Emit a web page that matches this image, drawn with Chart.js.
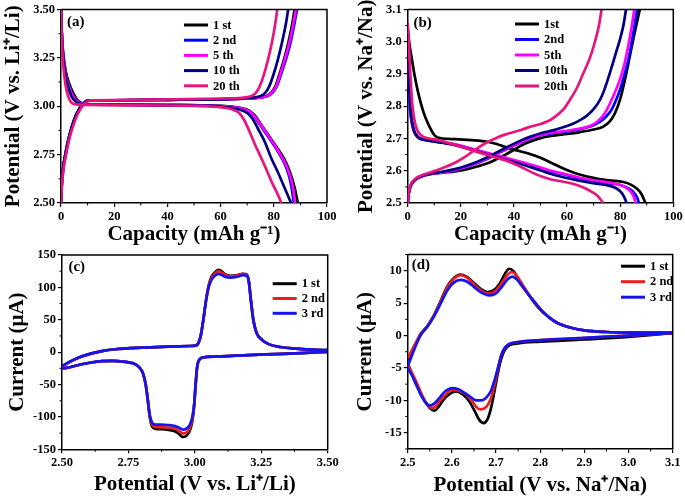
<!DOCTYPE html>
<html>
<head>
<meta charset="utf-8">
<script src="https://cdn.jsdelivr.net/npm/chart.js@4.4.1/dist/chart.umd.min.js"></script>
<style>
  body { margin: 0; background: #fff; }
  canvas { position: absolute; }
</style>
</head>
<body>
<canvas id="chartA" width="342" height="245" style="left:0;top:0"></canvas>
<canvas id="chartB" width="343" height="245" style="left:342px;top:0"></canvas>
<canvas id="chartC" width="342" height="253" style="left:0;top:245px"></canvas>
<canvas id="chartD" width="343" height="253" style="left:342px;top:245px"></canvas>
<script>
// ---------------- tick values ----------------
const capTicks = [0, 20, 40, 60, 80, 100];
const liVoltTicks = [2.5, 2.75, 3.0, 3.25, 3.5];
const naVoltTicks = [2.5, 2.6, 2.7, 2.8, 2.9, 3.0, 3.1];
const currentTicksC = [-150, -100, -50, 0, 50, 100, 150];
const currentTicksD = [-15, -10, -5, 0, 5, 10];

// ---------------- (a) Li cell, [capacity, voltage] ----------------
const aCycles = ['1 st', '2 nd', '5 th', '10 th', '20 th'];
const aChg1 = [[0,2.5],[0.3,2.6],[0.8,2.68],[1.6,2.75],[2.8,2.83],[4.2,2.9],[5.8,2.96],[7.5,3.0],[9,3.022],[10.5,3.03],[20,3.031],[40,3.033],[60,3.036],[70,3.04],[74,3.044],[77,3.052],[79,3.07],[80.5,3.1],[82,3.16],[83.8,3.24],[85.5,3.33],[87,3.43],[87.8,3.5]];
const aChg2 = [[0,2.5],[0.3,2.6],[0.8,2.68],[1.7,2.75],[2.9,2.83],[4.3,2.9],[5.9,2.96],[7.6,3.0],[9,3.022],[10.5,3.03],[20,3.031],[40,3.033],[60,3.036],[70,3.04],[74.5,3.044],[77.5,3.052],[79.5,3.07],[81,3.1],[82.6,3.16],[84.5,3.24],[86.3,3.33],[87.8,3.43],[88.7,3.5]];
const aChg5 = [[0,2.5],[0.35,2.6],[0.9,2.68],[1.8,2.75],[3,2.83],[4.4,2.9],[6,2.96],[7.7,3.0],[9.2,3.022],[10.6,3.03],[20,3.031],[40,3.033],[60,3.036],[70,3.04],[74.3,3.044],[77.3,3.052],[79.2,3.07],[80.8,3.1],[82.3,3.16],[84.1,3.24],[85.9,3.33],[87.4,3.43],[88.3,3.5]];
const aChg10 = [[0,2.5],[0.3,2.6],[0.8,2.68],[1.6,2.75],[2.8,2.83],[4.2,2.9],[5.8,2.96],[7.5,3.0],[9,3.022],[10.5,3.03],[20,3.031],[40,3.033],[60,3.036],[68,3.04],[72,3.044],[74.5,3.05],[76.5,3.065],[78.2,3.1],[79.8,3.16],[81.5,3.24],[83.1,3.33],[84.6,3.43],[85.4,3.5]];
const aChg20 = [[0,2.5],[0.4,2.6],[1,2.68],[1.9,2.75],[3.1,2.83],[4.6,2.9],[6.3,2.96],[8,3.0],[9.5,3.02],[11,3.03],[20,3.032],[40,3.035],[60,3.04],[68,3.044],[71,3.05],[73,3.065],[74.6,3.1],[76.2,3.16],[77.8,3.24],[79.3,3.33],[80.6,3.43],[81.3,3.5]];
const aDis1 = [[0,3.5],[0.2,3.42],[0.5,3.33],[1,3.25],[1.8,3.18],[3,3.12],[4.5,3.07],[6,3.035],[7.5,3.018],[9,3.01],[20,3.009],[40,3.007],[55,3.004],[63,3.0],[68,2.99],[71,2.975],[73,2.95],[75,2.91],[77.5,2.86],[80,2.81],[82.2,2.766],[84,2.725],[85.5,2.68],[86.8,2.63],[88,2.57],[89,2.5]];
const aDis2 = [[0,3.5],[0.2,3.41],[0.5,3.32],[1,3.24],[1.7,3.17],[2.8,3.11],[4.2,3.06],[5.7,3.03],[7.2,3.015],[9,3.01],[20,3.008],[40,3.006],[55,3.003],[63,2.998],[68,2.988],[71,2.97],[73,2.94],[75,2.9],[77.5,2.85],[80,2.8],[82,2.755],[84,2.705],[85.5,2.65],[86.7,2.58],[87.5,2.5]];
const aDis5 = [[0,3.5],[0.2,3.41],[0.5,3.32],[1,3.24],[1.7,3.17],[2.8,3.11],[4.2,3.06],[5.7,3.03],[7.2,3.015],[9,3.01],[20,3.008],[40,3.006],[55,3.003],[63,2.998],[68,2.988],[71.2,2.97],[73.2,2.94],[75.3,2.9],[77.8,2.85],[80.3,2.8],[82.3,2.755],[84.3,2.705],[85.9,2.65],[87.2,2.58],[88,2.5]];
const aDis10 = [[0,3.5],[0.2,3.4],[0.5,3.31],[1,3.23],[1.7,3.16],[2.7,3.1],[4,3.05],[5.5,3.025],[7,3.013],[9,3.009],[20,3.007],[40,3.005],[55,3.002],[62,2.995],[67,2.983],[70,2.965],[72,2.935],[74,2.885],[76.5,2.82],[79.1,2.73],[81.5,2.66],[84,2.58],[86.5,2.5]];
const aDis20 = [[0,3.5],[0.2,3.38],[0.5,3.28],[1,3.19],[1.7,3.11],[2.6,3.055],[3.6,3.025],[4.6,3.013],[7,3.008],[20,3.006],[40,3.004],[55,3.0],[61,2.993],[64.5,2.983],[67,2.965],[69,2.925],[71,2.865],[73,2.8],[74.7,2.75],[77,2.68],[79.5,2.6],[81.3,2.55],[82.9,2.5]];

// ---------------- (b) Na cell, [capacity, voltage] ----------------
const bCycles = ['1st', '2nd', '5th', '10th', '20th'];
const bChg1 = [[0,2.5],[0.3,2.525],[1,2.55],[2.7,2.571],[5,2.582],[9,2.59],[13,2.594],[17.8,2.598],[22,2.604],[26,2.613],[30.3,2.624],[33.5,2.636],[36.6,2.649],[40,2.665],[42.9,2.679],[46,2.69],[50.4,2.702],[55,2.709],[60,2.714],[64.9,2.72],[70,2.728],[73.5,2.736],[76,2.752],[78,2.778],[80,2.822],[82,2.89],[83.7,2.958],[85.5,3.03],[87.4,3.1]];
const bChg2 = [[0,2.5],[0.3,2.525],[1,2.55],[2.7,2.571],[5,2.582],[9,2.591],[13,2.595],[17.8,2.601],[24,2.617],[30.3,2.638],[36.6,2.664],[42.9,2.689],[46,2.699],[50.4,2.711],[55,2.717],[60,2.722],[64.9,2.729],[69,2.738],[72,2.75],[74.5,2.766],[76.8,2.79],[78.5,2.82],[80.3,2.86],[82,2.91],[83.5,2.96],[85,3.03],[86.4,3.1]];
const bChg5 = [[0,2.5],[0.3,2.525],[1,2.55],[2.7,2.571],[5,2.582],[9,2.591],[13,2.595],[17.8,2.602],[24,2.618],[30.3,2.64],[36.6,2.666],[42.9,2.69],[46,2.7],[50.4,2.712],[55,2.719],[60,2.724],[64.9,2.731],[68.6,2.739],[71.2,2.751],[73.5,2.77],[74.9,2.788],[76.8,2.82],[78.5,2.853],[80,2.885],[81.7,2.935],[83.1,2.99],[84.3,3.045],[85.3,3.1]];
const bChg10 = [[0,2.5],[0.3,2.526],[1,2.552],[2.7,2.572],[5,2.583],[9,2.592],[13,2.597],[17.8,2.605],[24,2.621],[30.3,2.643],[36.6,2.67],[42.9,2.695],[46,2.705],[50.4,2.717],[55,2.726],[58.6,2.735],[62,2.745],[64.9,2.757],[67.5,2.771],[69.9,2.79],[72.4,2.82],[74,2.85],[76.2,2.905],[78.2,2.96],[80,3.01],[81.2,3.05],[82.2,3.1]];
const bChg20 = [[0,2.5],[0.3,2.527],[1,2.555],[2.7,2.574],[5,2.585],[9,2.596],[13,2.608],[17.8,2.625],[21,2.64],[24,2.657],[27,2.674],[30.3,2.69],[33.5,2.702],[36.6,2.712],[42.9,2.727],[46,2.736],[50.4,2.746],[53.6,2.757],[56,2.771],[58.6,2.79],[61.1,2.82],[63.6,2.855],[66,2.9],[68.6,2.95],[70.5,3.0],[72,3.05],[73,3.1]];
const bDis1 = [[0,3.04],[0.7,2.99],[1.5,2.95],[2.5,2.9],[4,2.84],[6,2.78],[8,2.74],[10.3,2.708],[13,2.7],[18,2.698],[24,2.695],[30,2.69],[33.5,2.683],[36.6,2.674],[42.9,2.659],[46,2.652],[50,2.64],[54,2.625],[58.6,2.607],[64,2.59],[71.2,2.576],[76,2.57],[81.2,2.565],[84,2.557],[86.2,2.545],[88,2.528],[89.5,2.5]];
const bDis2 = [[0,2.9],[0.5,2.83],[1.2,2.765],[2.2,2.725],[3.8,2.703],[7,2.695],[12,2.689],[17.8,2.681],[24,2.667],[30.3,2.653],[36.6,2.639],[42.9,2.625],[46,2.618],[50.4,2.607],[54,2.598],[58.6,2.589],[64,2.578],[71.2,2.567],[76,2.561],[80,2.556],[83,2.546],[85,2.534],[86.3,2.518],[87.1,2.5]];
const bDis5 = [[0,2.93],[0.5,2.85],[1.2,2.775],[2.2,2.728],[3.8,2.704],[7,2.696],[12,2.69],[17.8,2.682],[24,2.669],[30.3,2.655],[36.6,2.641],[42.9,2.627],[46,2.62],[50.4,2.609],[54,2.6],[58.6,2.591],[64,2.58],[71.2,2.569],[76,2.563],[80,2.556],[82.5,2.546],[84.2,2.533],[85.2,2.518],[85.8,2.5]];
const bDis10 = [[0,2.95],[0.5,2.86],[1.2,2.78],[2.2,2.73],[3.8,2.705],[7,2.695],[12,2.688],[17.8,2.679],[24,2.665],[30.3,2.65],[36.6,2.635],[42.9,2.62],[46,2.612],[50.4,2.6],[54,2.59],[58.6,2.58],[64,2.57],[71.2,2.56],[75,2.555],[78.7,2.545],[80.5,2.532],[81.7,2.515],[82.4,2.5]];
const bDis20 = [[0,3.06],[0.4,3.0],[1,2.9],[1.8,2.8],[3,2.74],[5,2.71],[8,2.7],[11.5,2.695],[17.8,2.68],[24.1,2.664],[30.3,2.648],[36.6,2.633],[42,2.615],[46,2.598],[50.4,2.582],[54,2.573],[58.6,2.566],[64,2.555],[68.6,2.538],[71.5,2.522],[73.6,2.5]];

// ---------------- (c) CV Li, [potential, current uA] ----------------
const cvCycles = ['1 st', '2 nd', '3 rd'];
const cUp1 = [[2.5,-22],[2.53,-15],[2.56,-9],[2.6,-3.5],[2.65,1.5],[2.7,4.5],[2.8,7],[2.9,8.5],[2.98,9.5],[3.0,10],[3.012,13],[3.022,25],[3.032,50],[3.042,80],[3.052,103],[3.062,116],[3.075,123],[3.088,127],[3.1,125],[3.115,120],[3.135,118],[3.16,119],[3.18,121],[3.195,120],[3.203,110],[3.211,80],[3.22,50],[3.232,30],[3.25,20],[3.28,12],[3.32,8],[3.38,5.5],[3.44,4],[3.5,3]];
const cDn1 = [[3.5,0.5],[3.4,-1.5],[3.3,-3],[3.2,-4.5],[3.1,-6.5],[3.035,-8],[3.018,-11],[3.009,-22],[3.003,-50],[2.997,-85],[2.99,-108],[2.98,-122],[2.968,-129],[2.955,-131],[2.942,-127],[2.925,-122],[2.9,-120],[2.875,-119],[2.85,-118],[2.838,-114],[2.83,-100],[2.823,-75],[2.815,-50],[2.805,-33],[2.79,-23],[2.77,-17.5],[2.73,-14.5],[2.69,-13.5],[2.65,-14],[2.61,-16],[2.57,-19],[2.535,-23],[2.5,-26]];
const cUp2 = [[2.5,-22],[2.53,-15],[2.56,-9],[2.6,-3.5],[2.65,1.5],[2.7,4.5],[2.8,7],[2.9,8.5],[2.98,9.5],[3.0,10],[3.012,13],[3.022,25],[3.032,50],[3.042,80],[3.052,102],[3.062,114],[3.075,121],[3.088,125],[3.1,123],[3.115,119],[3.135,117],[3.16,118.5],[3.18,121],[3.195,119.5],[3.203,110],[3.211,80],[3.22,50],[3.232,30],[3.25,20],[3.28,12],[3.32,8],[3.38,5.5],[3.44,4],[3.5,3]];
const cDn2 = [[3.5,0.5],[3.4,-1.5],[3.3,-3],[3.2,-4.5],[3.1,-6.5],[3.035,-8],[3.018,-11],[3.009,-22],[3.003,-50],[2.997,-84],[2.99,-105],[2.98,-118],[2.968,-124],[2.955,-125.5],[2.942,-122],[2.925,-118],[2.9,-116.5],[2.875,-116],[2.85,-115.5],[2.838,-111],[2.83,-98],[2.823,-74],[2.815,-50],[2.805,-33],[2.79,-23],[2.77,-17.5],[2.73,-14.5],[2.69,-13.5],[2.65,-14],[2.61,-16],[2.57,-19],[2.535,-23],[2.5,-26]];
const cUp3 = [[2.5,-21],[2.53,-14.5],[2.56,-8.5],[2.6,-3],[2.65,1.5],[2.7,4.5],[2.8,7],[2.9,8.5],[2.98,9.5],[3.0,10],[3.012,13],[3.022,25],[3.032,50],[3.042,79],[3.052,100],[3.062,111],[3.075,118],[3.088,121],[3.1,119.5],[3.115,116],[3.135,115],[3.16,116.5],[3.18,119],[3.195,118],[3.203,109],[3.211,80],[3.22,50],[3.232,30],[3.25,20],[3.28,12],[3.32,8],[3.38,5.5],[3.44,4],[3.5,3]];
const cDn3 = [[3.5,0.5],[3.4,-1.5],[3.3,-3],[3.2,-4.5],[3.1,-6.5],[3.035,-8],[3.018,-11],[3.009,-22],[3.003,-49],[2.997,-82],[2.99,-101],[2.98,-113],[2.968,-118],[2.955,-119.5],[2.942,-117],[2.925,-114],[2.9,-112.5],[2.875,-112],[2.85,-112],[2.838,-108],[2.83,-96],[2.823,-73],[2.815,-50],[2.805,-33],[2.79,-23],[2.77,-17.5],[2.73,-14.5],[2.69,-13.5],[2.65,-14],[2.61,-16],[2.57,-19],[2.535,-22.5],[2.5,-25]];

// ---------------- (d) CV Na, [potential, current uA] ----------------
const dUp1 = [[2.5,-3.8],[2.51,-2.4],[2.52,-1],[2.53,0.3],[2.545,1.5],[2.56,3.2],[2.575,5.4],[2.59,7.6],[2.605,8.9],[2.62,9.4],[2.635,9],[2.65,8.1],[2.665,7.2],[2.68,6.7],[2.695,7],[2.708,8],[2.72,9.5],[2.73,10.3],[2.74,9.9],[2.75,8.8],[2.765,7.2],[2.78,5.7],[2.8,4],[2.82,2.8],[2.84,1.9],[2.87,1.2],[2.9,0.8],[2.95,0.55],[3.0,0.45],[3.1,0.4]];
const dDn1 = [[3.1,0.35],[3.0,-0.2],[2.9,-0.6],[2.8,-0.95],[2.75,-1.2],[2.73,-1.5],[2.72,-2.2],[2.712,-3.5],[2.705,-5.5],[2.698,-8],[2.69,-10.8],[2.682,-12.7],[2.672,-13.5],[2.662,-13],[2.652,-11.7],[2.64,-10.2],[2.625,-9.1],[2.61,-8.6],[2.595,-9],[2.58,-10],[2.57,-11],[2.56,-11.6],[2.55,-11.2],[2.54,-10.2],[2.53,-9],[2.52,-7.6],[2.51,-6],[2.5,-4.3]];
const dUp2 = [[2.5,-3.5],[2.51,-2.2],[2.52,-0.9],[2.53,0.3],[2.545,1.5],[2.56,3.2],[2.575,5.3],[2.59,7.5],[2.605,8.8],[2.62,9.3],[2.635,8.9],[2.65,7.9],[2.665,7],[2.68,6.5],[2.695,6.7],[2.71,7.8],[2.722,9],[2.735,9.8],[2.745,9.4],[2.755,8.4],[2.768,7],[2.78,5.8],[2.8,4.1],[2.82,2.8],[2.84,1.9],[2.87,1.2],[2.9,0.8],[2.95,0.55],[3.0,0.45],[3.1,0.4]];
const dDn2 = [[3.1,0.35],[3.0,0],[2.9,-0.35],[2.8,-0.7],[2.75,-1],[2.73,-1.3],[2.72,-1.9],[2.712,-3],[2.705,-5],[2.697,-7.5],[2.688,-9.8],[2.678,-11],[2.665,-11.4],[2.655,-11],[2.645,-10],[2.63,-9],[2.615,-8.5],[2.6,-8.4],[2.585,-9.2],[2.572,-10.2],[2.562,-11],[2.555,-11.2],[2.545,-10.7],[2.535,-9.6],[2.525,-8],[2.515,-6.5],[2.5,-4.5]];
const dUp3 = [[2.5,-4.8],[2.51,-3],[2.52,-1.3],[2.53,0.1],[2.545,1.4],[2.56,3],[2.575,5],[2.59,7],[2.605,8.2],[2.62,8.6],[2.635,8.3],[2.65,7.5],[2.665,6.7],[2.685,6.2],[2.7,6.5],[2.713,7.5],[2.725,8.6],[2.737,9.1],[2.748,8.6],[2.758,7.7],[2.77,6.6],[2.785,5.4],[2.8,4.1],[2.82,2.8],[2.84,1.9],[2.87,1.2],[2.9,0.8],[2.95,0.55],[3.0,0.45],[3.1,0.45]];
const dDn3 = [[3.1,0.4],[3.0,0],[2.9,-0.35],[2.8,-0.7],[2.75,-1],[2.73,-1.3],[2.72,-1.9],[2.712,-3],[2.705,-4.8],[2.697,-6.8],[2.688,-8.6],[2.676,-9.7],[2.665,-10],[2.655,-10],[2.645,-9.6],[2.63,-8.9],[2.615,-8.3],[2.6,-8.1],[2.585,-8.6],[2.572,-9.6],[2.56,-10.5],[2.55,-10.8],[2.54,-10.3],[2.53,-9.2],[2.52,-7.7],[2.51,-6.2],[2.5,-5]];

// ---------------- styling ----------------
const FONT = '"Liberation Serif", "Times New Roman", serif';
const cycleColors = ['#000000', '#0000ff', '#ff00ff', '#000080', '#e8157f'];
const cvColors = ['#000000', '#ee1c1c', '#1414ee'];

// minor ticks, top/right frame, panel tag and in-plot legend
const panelDecor = {
    id: 'panelDecor',
    afterDatasetsDraw(chart, args, o) {
        const ctx = chart.ctx;
        const area = chart.chartArea;
        ctx.save();
        ctx.strokeStyle = '#000';
        ctx.lineWidth = 1.5;
        ctx.beginPath();
        ctx.moveTo(area.left, area.top);
        ctx.lineTo(area.right, area.top);
        ctx.lineTo(area.right, area.bottom);
        ctx.stroke();

        // minor ticks halfway between the major ones
        ctx.lineWidth = 1;
        ['x', 'y'].forEach(id => {
            const s = chart.scales[id];
            const vals = s.ticks.map(t => t.value);
            const step = vals[1] - vals[0];
            const minors = [];
            for (let v = vals[0] - step / 2; v <= s.max + 1e-9; v += step) {
                if (v >= s.min - 1e-9) minors.push(v);
            }
            ctx.beginPath();
            minors.forEach(v => {
                const p = s.getPixelForValue(v);
                if (id === 'x') { ctx.moveTo(p, area.bottom); ctx.lineTo(p, area.bottom + 2.5); }
                else { ctx.moveTo(area.left, p); ctx.lineTo(area.left - 2.5, p); }
            });
            ctx.stroke();
        });

        ctx.fillStyle = '#000';
        ctx.textBaseline = 'middle';
        ctx.font = 'bold 15px ' + FONT;
        ctx.fillText(o.tag, o.tagX, o.tagY);

        ctx.font = 'bold 12.5px ' + FONT;
        chart.data.datasets.filter(ds => ds.label).forEach((ds, i) => {
            const y = o.legY + i * o.legGap;
            ctx.strokeStyle = ds.borderColor;
            ctx.lineWidth = 3;
            ctx.beginPath();
            ctx.moveTo(o.legX, y);
            ctx.lineTo(o.legX + 24, y);
            ctx.stroke();
            ctx.fillText(ds.label, o.legX + 29, y + 0.5);
        });
        ctx.restore();
    }
};

function axisOpts(a, dir) {
    return {
        type: 'linear',
        position: dir === 'x' ? 'bottom' : 'left',
        min: a.min,
        max: a.max,
        afterBuildTicks: s => { s.ticks = a.ticks.map(v => ({ value: v })); },
        afterFit: s => { if (dir === 'x') s.height = a.size; else s.width = a.size; },
        ticks: {
            color: '#000', padding: 2, autoSkip: false, maxRotation: 0,
            font: { family: FONT, size: 12.5, weight: 'bold' },
            callback: v => v.toFixed(a.dec)
        },
        grid: { drawOnChartArea: false, color: '#000', lineWidth: 1.2, tickLength: 4 },
        border: { color: '#000', width: 1.5 },
        title: {
            display: true, text: a.title, color: '#000',
            font: { family: FONT, size: 21, weight: 'bold', lineHeight: 1 },
            padding: dir === 'x' ? { top: 0, bottom: a.titlePad } : { top: a.titlePad, bottom: 0 }
        }
    };
}

function makePanel(id, series, labels, colors, cfg) {
    const datasets = [];
    series.forEach((branches, i) => {
        branches.forEach((br, j) => {
            datasets.push({
                label: j === 0 ? labels[i] : '',
                data: br.map(([x, y]) => ({ x, y })),
                borderColor: colors[i],
                borderWidth: 2.7,
                pointRadius: 0,
                fill: false,
                cubicInterpolationMode: 'monotone',
                order: -i
            });
        });
    });
    return new Chart(document.getElementById(id), {
        type: 'scatter',
        data: { datasets },
        options: {
            responsive: false,
            animation: false,
            devicePixelRatio: 1,
            events: [],
            showLine: true,
            layout: { padding: { top: cfg.top, right: cfg.right, left: 0, bottom: 0 } },
            plugins: {
                legend: { display: false },
                tooltip: { enabled: false },
                panelDecor: cfg.decor
            },
            scales: { x: axisOpts(cfg.x, 'x'), y: axisOpts(cfg.y, 'y') }
        },
        plugins: [panelDecor]
    });
}

makePanel('chartA',
    [[aChg1, aDis1], [aChg2, aDis2], [aChg5, aDis5], [aChg10, aDis10], [aChg20, aDis20]],
    aCycles, cycleColors, {
        top: 9, right: 15,
        x: { min: 0, max: 100, ticks: capTicks, dec: 0, size: 42, title: 'Capacity (mAh g⁻¹)', titlePad: 0 },
        y: { min: 2.5, max: 3.5, ticks: liVoltTicks, dec: 2, size: 61, title: 'Potential (V vs. Li⁺/Li)', titlePad: 3 },
        decor: { tag: '(a)', tagX: 67, tagY: 22.5, legX: 184, legY: 25, legGap: 15.2 }
    });

makePanel('chartB',
    [[bChg1, bDis1], [bChg2, bDis2], [bChg5, bDis5], [bChg10, bDis10], [bChg20, bDis20]],
    bCycles, cycleColors, {
        top: 9, right: 11.7,
        x: { min: 0, max: 100, ticks: capTicks, dec: 0, size: 42, title: 'Capacity (mAh g⁻¹)', titlePad: 0 },
        y: { min: 2.5, max: 3.1, ticks: naVoltTicks, dec: 1, size: 65.7, title: 'Potential (V vs. Na⁺/Na)', titlePad: 14 },
        decor: { tag: '(b)', tagX: 71.4, tagY: 23, legX: 173, legY: 24, legGap: 15.5 }
    });

makePanel('chartC',
    [[cUp1, cDn1], [cUp2, cDn2], [cUp3, cDn3]],
    cvCycles, cvColors, {
        top: 10, right: 14.3,
        x: { min: 2.5, max: 3.5, ticks: liVoltTicks, dec: 2, size: 48.7, title: 'Potential (V vs. Li⁺/Li)', titlePad: 2.5 },
        y: { min: -150, max: 150, ticks: currentTicksC, dec: 0, size: 62, title: 'Current (μA)', titlePad: 7 },
        decor: { tag: '(c)', tagX: 68.4, tagY: 22.5, legX: 272.7, legY: 38.7, legGap: 14.8 }
    });

makePanel('chartD',
    [[dUp1, dDn1], [dUp2, dDn2], [dUp3, dDn3]],
    cvCycles, cvColors, {
        top: 9, right: 12.3,
        x: { min: 2.5, max: 3.1, ticks: naVoltTicks, dec: 1, size: 49, title: 'Potential (V vs. Na⁺/Na)', titlePad: 1.5 },
        y: { min: -17.5, max: 12.5, ticks: currentTicksD, dec: 0, size: 65.7, title: 'Current (μA)', titlePad: 13 },
        decor: { tag: '(d)', tagX: 69.7, tagY: 20, legX: 279, legY: 21.2, legGap: 15.5 }
    });
</script>
</body>
</html>
